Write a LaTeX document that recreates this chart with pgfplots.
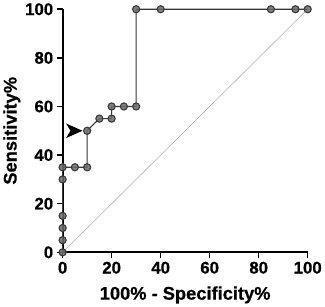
\documentclass[border=0pt]{standalone}
\usepackage{pgfplots}
\pgfplotsset{compat=1.18}
\usepackage{fontspec}
\setmainfont{Liberation Sans}
\newfontface\tickbf{Liberation Sans Bold}[FakeBold=0.6]
\newcommand{\tb}[1]{\mbox{\fontsize{17}{18}\tickbf #1}}
\begin{document}
\begin{tikzpicture}
\begin{axis}[
  scale only axis, width=247bp, height=245bp,
  xmin=0, xmax=100, ymin=0, ymax=100,
  axis lines=left, axis line style={line width=1.8pt, -},
  xtick={0,20,...,100}, ytick={0,20,...,100},
  xticklabels={\tb{0},\tb{20},\tb{40},\tb{60},\tb{80},\tb{100}},
  yticklabels={\tb{0},\tb{20},\tb{40},\tb{60},\tb{80},\tb{100}},
  tick style={line width=1.6pt, black}, tick align=outside, major tick length=6bp,
  xlabel={\fontsize{18.5}{19}\tickbf 100\% - Specificity\%},
  ylabel={\fontsize{18.5}{19}\tickbf Sensitivity\%},
  xlabel style={yshift=-6bp},
  ylabel style={yshift=-2bp},
  clip=false,
]
\addplot[line width=0.6pt, gray!60!white, forget plot] coordinates {(0,0) (100,100)};
\addplot[line width=1.1pt, black!78, mark=*, mark size=3.6bp,
  mark options={draw=none, fill=black!58, fill opacity=0.85}] coordinates {
(0,0) (0,5) (0,10) (0,15) (0,30) (0,35) (5,35) (10,35) (10,50) (15,55) (20,55) (20,60) (25,60) (30,60) (30,100) (40,100) (85,100) (95,100) (100,100)};
\fill[black] (axis cs:8.1,50) -- (axis cs:1.4,53) -- (axis cs:3.2,50) -- (axis cs:1.4,47) -- cycle;
\end{axis}
\end{tikzpicture}
\end{document}
